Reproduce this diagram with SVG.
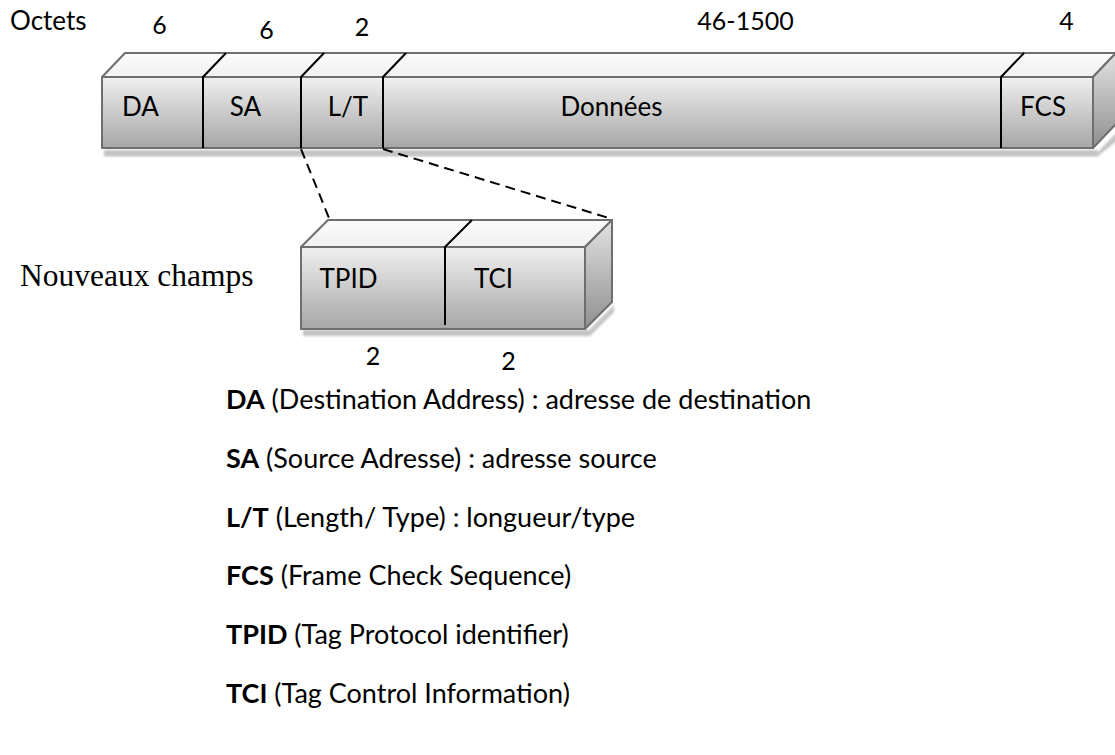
<svg xmlns="http://www.w3.org/2000/svg" width="1115" height="755" viewBox="0 0 1115 755">
  <defs>
    <linearGradient id="gFront" x1="0" y1="0" x2="0" y2="1">
      <stop offset="0" stop-color="#f0f0f0"/>
      <stop offset="1" stop-color="#a6a6a6"/>
    </linearGradient>
    <linearGradient id="gTop" x1="0" y1="0" x2="0" y2="1">
      <stop offset="0" stop-color="#fbfbfb"/>
      <stop offset="1" stop-color="#f1f1f1"/>
    </linearGradient>
    <linearGradient id="gSide" x1="0" y1="0" x2="0" y2="1">
      <stop offset="0" stop-color="#e2e2e2"/>
      <stop offset="1" stop-color="#8f8f8f"/>
    </linearGradient>
    <filter id="soft" x="-5%" y="-20%" width="110%" height="140%">
      <feGaussianBlur stdDeviation="1.2"/>
    </filter>
    <style>
      .front { fill: url(#gFront); stroke: #6e6e6e; stroke-width: 2; stroke-linejoin: round; }
      .top   { fill: url(#gTop);   stroke: #6e6e6e; stroke-width: 2; stroke-linejoin: round; }
      .side  { fill: url(#gSide);  stroke: #6e6e6e; stroke-width: 2; stroke-linejoin: round; }
      .shadow { fill: #c4c4c4; filter: url(#soft); }
      .div   { stroke: #000; stroke-width: 2; fill: none; }
      .dash  { stroke: #000; stroke-width: 2; fill: none; stroke-dasharray: 10 6; }
      .lbl   { font-family: Lato, "Open Sans", sans-serif; font-size: 26px; fill: #000; }
      .num   { font-family: Lato, "Open Sans", sans-serif; font-size: 25px; fill: #000; text-anchor: middle; }
      .leg   { font-family: Lato, "Open Sans", sans-serif; font-size: 27px; fill: #000; }
      .mid   { text-anchor: middle; }
      .serif { font-family: "Liberation Serif", "DejaVu Serif", serif; font-size: 31.5px; fill: #000; }
      .b     { font-weight: bold; }
    </style>
  </defs>

  <!-- byte counts above the frame -->
  <g id="octets">
    <text class="lbl" x="10" y="30" font-size="25">Octets</text>
    <text class="num" x="159.5" y="34">6</text>
    <text class="num" x="266.5" y="39">6</text>
    <text class="num" x="362" y="36">2</text>
    <text class="num" x="745.5" y="30">46-1500</text>
    <text class="num" x="1066.5" y="30">4</text>
  </g>

  <!-- Ethernet frame as one 3D bar -->
  <g id="frame">
    <polygon class="shadow" points="105,154 1096,154 1118,131 1118,140 1098,156 105,156"/>
    <rect class="shadow" x="104" y="150" width="994" height="6"/>
    <polygon class="top" points="102,77 125,53 1116,53 1093,77"/>
    <polygon class="side" points="1093,77 1116,53 1116,124 1093,148"/>
    <rect class="front" x="102" y="77" width="991" height="71"/>
  </g>

  <g id="field-da">
    <text class="lbl mid" x="140.5" y="116">DA</text>
  </g>
  <g id="field-sa">
    <path class="div" d="M203,148 V77 L226,53"/>
    <text class="lbl mid" x="245.5" y="116">SA</text>
  </g>
  <g id="field-lt">
    <path class="div" d="M301,148 V77 L324,53"/>
    <text class="lbl mid" x="348" y="116">L/T</text>
  </g>
  <g id="field-data">
    <path class="div" d="M383,148 V77 L406,53"/>
    <text class="lbl mid" x="611.5" y="116">Données</text>
  </g>
  <g id="field-fcs">
    <path class="div" d="M1001,148 V77 L1024,53"/>
    <text class="lbl mid" x="1043" y="116">FCS</text>
  </g>

  <!-- expansion lines from L/T to the inserted tag -->
  <g id="connectors">
    <line class="dash" x1="301" y1="149" x2="329" y2="218"/>
    <line class="dash" x1="383" y1="149" x2="612" y2="219"/>
  </g>

  <text class="serif" x="20" y="286">Nouveaux champs</text>

  <!-- 802.1Q tag box -->
  <g id="tag">
    <rect class="shadow" x="303" y="330" width="286" height="6"/>
    <polygon class="shadow" points="585,334 614,305 614,312 590,336"/>
    <polygon class="top" points="301,247 328,220 612,220 585,247"/>
    <polygon class="side" points="585,247 612,220 612,302 585,329"/>
    <rect class="front" x="301" y="247" width="284" height="82"/>
  </g>
  <g id="field-tpid">
    <text class="lbl mid" x="348.5" y="288">TPID</text>
    <text class="num" x="373" y="365">2</text>
  </g>
  <g id="field-tci">
    <path class="div" d="M445,325 V247 L472,220"/>
    <text class="lbl mid" x="493.5" y="288">TCI</text>
    <text class="num" x="508.5" y="370">2</text>
  </g>

  <!-- legend -->
  <g id="legend" class="leg">
    <text x="226" y="409"><tspan class="b">DA</tspan> (Destination Address) : adresse de destination</text>
    <text x="226" y="468"><tspan class="b">SA</tspan> (Source Adresse) : adresse source</text>
    <text x="226" y="527"><tspan class="b">L/T</tspan> (Length/ Type) : longueur/type</text>
    <text x="226" y="585"><tspan class="b">FCS</tspan> (Frame Check Sequence)</text>
    <text x="226" y="644"><tspan class="b">TPID</tspan> (Tag Protocol identifier)</text>
    <text x="226" y="703"><tspan class="b">TCI</tspan> (Tag Control Information)</text>
  </g>
</svg>
